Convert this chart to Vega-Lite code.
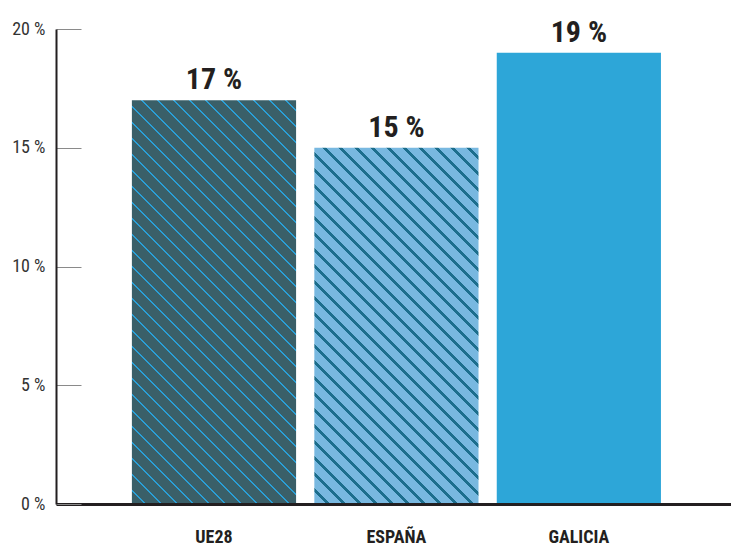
{
  "$schema": "https://vega.github.io/schema/vega-lite/v6.json",
  "width": 675,
  "height": 475,
  "autosize": {"type": "none"},
  "padding": {"left": 56, "top": 29, "right": 0, "bottom": 41},
  "background": "#ffffff",
  "config": {
    "view": {"stroke": null},
    "font": "Liberation Sans Narrow, Roboto Condensed, Roboto"
  },
  "data": {
    "values": [
      {"region": "UE28", "value": 17, "label": "17 %"},
      {"region": "ESPAÑA", "value": 15, "label": "15 %"},
      {"region": "GALICIA", "value": 19, "label": "19 %"}
    ]
  },
  "encoding": {
    "x": {
      "field": "region",
      "type": "nominal",
      "scale": {"domain": ["UE28", "ESPAÑA", "GALICIA"], "paddingInner": 0.1, "paddingOuter": 0.4, "align": 0.52},
      "axis": {
        "title": null,
        "labelAngle": 0,
        "ticks": false,
        "labelPadding": 24,
        "labelFontSize": 18,
        "labelFontWeight": "bold",
        "labelColor": "#231f20",
        "labelBaseline": "top",
        "labelFont": "Liberation Sans Narrow, Roboto Condensed, Roboto",
        "domainColor": "#231f20",
        "domainWidth": 3,
        "zindex": 1
      }
    },
    "y": {
      "field": "value",
      "type": "quantitative",
      "scale": {"domain": [0, 20], "nice": false},
      "axis": {
        "title": null,
        "values": [0, 5, 10, 15, 20],
        "labelExpr": "datum.value + ' %'",
        "grid": false,
        "tickSize": -25,
        "tickColor": "#8a8a8a",
        "tickWidth": 1,
        "labelPadding": 36,
        "labelFontSize": 18,
        "labelColor": "#333333",
        "labelFont": "Liberation Sans Narrow, Roboto Condensed, Roboto",
        "domainColor": "#231f20",
        "domainWidth": 2,
        "zindex": 1
      }
    }
  },
  "layer": [
    {
      "transform": [{"filter": "datum.region === 'UE28'"}],
      "mark": {
        "type": "bar",
        "fill": {
          "gradient": "linear",
          "x1": 0, "y1": 1.00557, "x2": 0.55314, "y2": -0.35463,
          "stops": [
            {"offset": 0, "color": "#3a5f68"},
            {"offset": 0.0234375, "color": "#3a5f68"}, {"offset": 0.0234375, "color": "#2a9fd6"}, {"offset": 0.0265625, "color": "#2a9fd6"}, {"offset": 0.0265625, "color": "#3a5f68"},
            {"offset": 0.0484375, "color": "#3a5f68"}, {"offset": 0.0484375, "color": "#2a9fd6"}, {"offset": 0.0515625, "color": "#2a9fd6"}, {"offset": 0.0515625, "color": "#3a5f68"},
            {"offset": 0.0734375, "color": "#3a5f68"}, {"offset": 0.0734375, "color": "#2a9fd6"}, {"offset": 0.0765625, "color": "#2a9fd6"}, {"offset": 0.0765625, "color": "#3a5f68"},
            {"offset": 0.0984375, "color": "#3a5f68"}, {"offset": 0.0984375, "color": "#2a9fd6"}, {"offset": 0.1015625, "color": "#2a9fd6"}, {"offset": 0.1015625, "color": "#3a5f68"},
            {"offset": 0.1234375, "color": "#3a5f68"}, {"offset": 0.1234375, "color": "#2a9fd6"}, {"offset": 0.1265625, "color": "#2a9fd6"}, {"offset": 0.1265625, "color": "#3a5f68"},
            {"offset": 0.1484375, "color": "#3a5f68"}, {"offset": 0.1484375, "color": "#2a9fd6"}, {"offset": 0.1515625, "color": "#2a9fd6"}, {"offset": 0.1515625, "color": "#3a5f68"},
            {"offset": 0.1734375, "color": "#3a5f68"}, {"offset": 0.1734375, "color": "#2a9fd6"}, {"offset": 0.1765625, "color": "#2a9fd6"}, {"offset": 0.1765625, "color": "#3a5f68"},
            {"offset": 0.1984375, "color": "#3a5f68"}, {"offset": 0.1984375, "color": "#2a9fd6"}, {"offset": 0.2015625, "color": "#2a9fd6"}, {"offset": 0.2015625, "color": "#3a5f68"},
            {"offset": 0.2234375, "color": "#3a5f68"}, {"offset": 0.2234375, "color": "#2a9fd6"}, {"offset": 0.2265625, "color": "#2a9fd6"}, {"offset": 0.2265625, "color": "#3a5f68"},
            {"offset": 0.2484375, "color": "#3a5f68"}, {"offset": 0.2484375, "color": "#2a9fd6"}, {"offset": 0.2515625, "color": "#2a9fd6"}, {"offset": 0.2515625, "color": "#3a5f68"},
            {"offset": 0.2734375, "color": "#3a5f68"}, {"offset": 0.2734375, "color": "#2a9fd6"}, {"offset": 0.2765625, "color": "#2a9fd6"}, {"offset": 0.2765625, "color": "#3a5f68"},
            {"offset": 0.2984375, "color": "#3a5f68"}, {"offset": 0.2984375, "color": "#2a9fd6"}, {"offset": 0.3015625, "color": "#2a9fd6"}, {"offset": 0.3015625, "color": "#3a5f68"},
            {"offset": 0.3234375, "color": "#3a5f68"}, {"offset": 0.3234375, "color": "#2a9fd6"}, {"offset": 0.3265625, "color": "#2a9fd6"}, {"offset": 0.3265625, "color": "#3a5f68"},
            {"offset": 0.3484375, "color": "#3a5f68"}, {"offset": 0.3484375, "color": "#2a9fd6"}, {"offset": 0.3515625, "color": "#2a9fd6"}, {"offset": 0.3515625, "color": "#3a5f68"},
            {"offset": 0.3734375, "color": "#3a5f68"}, {"offset": 0.3734375, "color": "#2a9fd6"}, {"offset": 0.3765625, "color": "#2a9fd6"}, {"offset": 0.3765625, "color": "#3a5f68"},
            {"offset": 0.3984375, "color": "#3a5f68"}, {"offset": 0.3984375, "color": "#2a9fd6"}, {"offset": 0.4015625, "color": "#2a9fd6"}, {"offset": 0.4015625, "color": "#3a5f68"},
            {"offset": 0.4234375, "color": "#3a5f68"}, {"offset": 0.4234375, "color": "#2a9fd6"}, {"offset": 0.4265625, "color": "#2a9fd6"}, {"offset": 0.4265625, "color": "#3a5f68"},
            {"offset": 0.4484375, "color": "#3a5f68"}, {"offset": 0.4484375, "color": "#2a9fd6"}, {"offset": 0.4515625, "color": "#2a9fd6"}, {"offset": 0.4515625, "color": "#3a5f68"},
            {"offset": 0.4734375, "color": "#3a5f68"}, {"offset": 0.4734375, "color": "#2a9fd6"}, {"offset": 0.4765625, "color": "#2a9fd6"}, {"offset": 0.4765625, "color": "#3a5f68"},
            {"offset": 0.4984375, "color": "#3a5f68"}, {"offset": 0.4984375, "color": "#2a9fd6"}, {"offset": 0.5015625, "color": "#2a9fd6"}, {"offset": 0.5015625, "color": "#3a5f68"},
            {"offset": 0.5234375, "color": "#3a5f68"}, {"offset": 0.5234375, "color": "#2a9fd6"}, {"offset": 0.5265625, "color": "#2a9fd6"}, {"offset": 0.5265625, "color": "#3a5f68"},
            {"offset": 0.5484375, "color": "#3a5f68"}, {"offset": 0.5484375, "color": "#2a9fd6"}, {"offset": 0.5515625, "color": "#2a9fd6"}, {"offset": 0.5515625, "color": "#3a5f68"},
            {"offset": 0.5734375, "color": "#3a5f68"}, {"offset": 0.5734375, "color": "#2a9fd6"}, {"offset": 0.5765625, "color": "#2a9fd6"}, {"offset": 0.5765625, "color": "#3a5f68"},
            {"offset": 0.5984375, "color": "#3a5f68"}, {"offset": 0.5984375, "color": "#2a9fd6"}, {"offset": 0.6015625, "color": "#2a9fd6"}, {"offset": 0.6015625, "color": "#3a5f68"},
            {"offset": 0.6234375, "color": "#3a5f68"}, {"offset": 0.6234375, "color": "#2a9fd6"}, {"offset": 0.6265625, "color": "#2a9fd6"}, {"offset": 0.6265625, "color": "#3a5f68"},
            {"offset": 0.6484375, "color": "#3a5f68"}, {"offset": 0.6484375, "color": "#2a9fd6"}, {"offset": 0.6515625, "color": "#2a9fd6"}, {"offset": 0.6515625, "color": "#3a5f68"},
            {"offset": 0.6734375, "color": "#3a5f68"}, {"offset": 0.6734375, "color": "#2a9fd6"}, {"offset": 0.6765625, "color": "#2a9fd6"}, {"offset": 0.6765625, "color": "#3a5f68"},
            {"offset": 0.6984375, "color": "#3a5f68"}, {"offset": 0.6984375, "color": "#2a9fd6"}, {"offset": 0.7015625, "color": "#2a9fd6"}, {"offset": 0.7015625, "color": "#3a5f68"},
            {"offset": 0.7234375, "color": "#3a5f68"}, {"offset": 0.7234375, "color": "#2a9fd6"}, {"offset": 0.7265625, "color": "#2a9fd6"}, {"offset": 0.7265625, "color": "#3a5f68"},
            {"offset": 0.7484375, "color": "#3a5f68"}, {"offset": 0.7484375, "color": "#2a9fd6"}, {"offset": 0.7515625, "color": "#2a9fd6"}, {"offset": 0.7515625, "color": "#3a5f68"},
            {"offset": 0.7734375, "color": "#3a5f68"}, {"offset": 0.7734375, "color": "#2a9fd6"}, {"offset": 0.7765625, "color": "#2a9fd6"}, {"offset": 0.7765625, "color": "#3a5f68"},
            {"offset": 0.7984375, "color": "#3a5f68"}, {"offset": 0.7984375, "color": "#2a9fd6"}, {"offset": 0.8015625, "color": "#2a9fd6"}, {"offset": 0.8015625, "color": "#3a5f68"},
            {"offset": 0.8234375, "color": "#3a5f68"}, {"offset": 0.8234375, "color": "#2a9fd6"}, {"offset": 0.8265625, "color": "#2a9fd6"}, {"offset": 0.8265625, "color": "#3a5f68"},
            {"offset": 0.8484375, "color": "#3a5f68"}, {"offset": 0.8484375, "color": "#2a9fd6"}, {"offset": 0.8515625, "color": "#2a9fd6"}, {"offset": 0.8515625, "color": "#3a5f68"},
            {"offset": 0.8734375, "color": "#3a5f68"}, {"offset": 0.8734375, "color": "#2a9fd6"}, {"offset": 0.8765625, "color": "#2a9fd6"}, {"offset": 0.8765625, "color": "#3a5f68"},
            {"offset": 1, "color": "#3a5f68"}
          ]
        }
      }
    },
    {
      "transform": [{"filter": "datum.region === 'ESPAÑA'"}],
      "mark": {
        "type": "bar",
        "fill": {
          "gradient": "linear",
          "x1": 0, "y1": 1.00491, "x2": 0.68292, "y2": -0.47684,
          "stops": [
            {"offset": 0, "color": "#78b8e0"},
            {"offset": 0.021875, "color": "#78b8e0"}, {"offset": 0.021875, "color": "#1c6e8d"}, {"offset": 0.028125, "color": "#1c6e8d"}, {"offset": 0.028125, "color": "#78b8e0"},
            {"offset": 0.046875, "color": "#78b8e0"}, {"offset": 0.046875, "color": "#1c6e8d"}, {"offset": 0.053125, "color": "#1c6e8d"}, {"offset": 0.053125, "color": "#78b8e0"},
            {"offset": 0.071875, "color": "#78b8e0"}, {"offset": 0.071875, "color": "#1c6e8d"}, {"offset": 0.078125, "color": "#1c6e8d"}, {"offset": 0.078125, "color": "#78b8e0"},
            {"offset": 0.096875, "color": "#78b8e0"}, {"offset": 0.096875, "color": "#1c6e8d"}, {"offset": 0.103125, "color": "#1c6e8d"}, {"offset": 0.103125, "color": "#78b8e0"},
            {"offset": 0.121875, "color": "#78b8e0"}, {"offset": 0.121875, "color": "#1c6e8d"}, {"offset": 0.128125, "color": "#1c6e8d"}, {"offset": 0.128125, "color": "#78b8e0"},
            {"offset": 0.146875, "color": "#78b8e0"}, {"offset": 0.146875, "color": "#1c6e8d"}, {"offset": 0.153125, "color": "#1c6e8d"}, {"offset": 0.153125, "color": "#78b8e0"},
            {"offset": 0.171875, "color": "#78b8e0"}, {"offset": 0.171875, "color": "#1c6e8d"}, {"offset": 0.178125, "color": "#1c6e8d"}, {"offset": 0.178125, "color": "#78b8e0"},
            {"offset": 0.196875, "color": "#78b8e0"}, {"offset": 0.196875, "color": "#1c6e8d"}, {"offset": 0.203125, "color": "#1c6e8d"}, {"offset": 0.203125, "color": "#78b8e0"},
            {"offset": 0.221875, "color": "#78b8e0"}, {"offset": 0.221875, "color": "#1c6e8d"}, {"offset": 0.228125, "color": "#1c6e8d"}, {"offset": 0.228125, "color": "#78b8e0"},
            {"offset": 0.246875, "color": "#78b8e0"}, {"offset": 0.246875, "color": "#1c6e8d"}, {"offset": 0.253125, "color": "#1c6e8d"}, {"offset": 0.253125, "color": "#78b8e0"},
            {"offset": 0.271875, "color": "#78b8e0"}, {"offset": 0.271875, "color": "#1c6e8d"}, {"offset": 0.278125, "color": "#1c6e8d"}, {"offset": 0.278125, "color": "#78b8e0"},
            {"offset": 0.296875, "color": "#78b8e0"}, {"offset": 0.296875, "color": "#1c6e8d"}, {"offset": 0.303125, "color": "#1c6e8d"}, {"offset": 0.303125, "color": "#78b8e0"},
            {"offset": 0.321875, "color": "#78b8e0"}, {"offset": 0.321875, "color": "#1c6e8d"}, {"offset": 0.328125, "color": "#1c6e8d"}, {"offset": 0.328125, "color": "#78b8e0"},
            {"offset": 0.346875, "color": "#78b8e0"}, {"offset": 0.346875, "color": "#1c6e8d"}, {"offset": 0.353125, "color": "#1c6e8d"}, {"offset": 0.353125, "color": "#78b8e0"},
            {"offset": 0.371875, "color": "#78b8e0"}, {"offset": 0.371875, "color": "#1c6e8d"}, {"offset": 0.378125, "color": "#1c6e8d"}, {"offset": 0.378125, "color": "#78b8e0"},
            {"offset": 0.396875, "color": "#78b8e0"}, {"offset": 0.396875, "color": "#1c6e8d"}, {"offset": 0.403125, "color": "#1c6e8d"}, {"offset": 0.403125, "color": "#78b8e0"},
            {"offset": 0.421875, "color": "#78b8e0"}, {"offset": 0.421875, "color": "#1c6e8d"}, {"offset": 0.428125, "color": "#1c6e8d"}, {"offset": 0.428125, "color": "#78b8e0"},
            {"offset": 0.446875, "color": "#78b8e0"}, {"offset": 0.446875, "color": "#1c6e8d"}, {"offset": 0.453125, "color": "#1c6e8d"}, {"offset": 0.453125, "color": "#78b8e0"},
            {"offset": 0.471875, "color": "#78b8e0"}, {"offset": 0.471875, "color": "#1c6e8d"}, {"offset": 0.478125, "color": "#1c6e8d"}, {"offset": 0.478125, "color": "#78b8e0"},
            {"offset": 0.496875, "color": "#78b8e0"}, {"offset": 0.496875, "color": "#1c6e8d"}, {"offset": 0.503125, "color": "#1c6e8d"}, {"offset": 0.503125, "color": "#78b8e0"},
            {"offset": 0.521875, "color": "#78b8e0"}, {"offset": 0.521875, "color": "#1c6e8d"}, {"offset": 0.528125, "color": "#1c6e8d"}, {"offset": 0.528125, "color": "#78b8e0"},
            {"offset": 0.546875, "color": "#78b8e0"}, {"offset": 0.546875, "color": "#1c6e8d"}, {"offset": 0.553125, "color": "#1c6e8d"}, {"offset": 0.553125, "color": "#78b8e0"},
            {"offset": 0.571875, "color": "#78b8e0"}, {"offset": 0.571875, "color": "#1c6e8d"}, {"offset": 0.578125, "color": "#1c6e8d"}, {"offset": 0.578125, "color": "#78b8e0"},
            {"offset": 0.596875, "color": "#78b8e0"}, {"offset": 0.596875, "color": "#1c6e8d"}, {"offset": 0.603125, "color": "#1c6e8d"}, {"offset": 0.603125, "color": "#78b8e0"},
            {"offset": 0.621875, "color": "#78b8e0"}, {"offset": 0.621875, "color": "#1c6e8d"}, {"offset": 0.628125, "color": "#1c6e8d"}, {"offset": 0.628125, "color": "#78b8e0"},
            {"offset": 0.646875, "color": "#78b8e0"}, {"offset": 0.646875, "color": "#1c6e8d"}, {"offset": 0.653125, "color": "#1c6e8d"}, {"offset": 0.653125, "color": "#78b8e0"},
            {"offset": 0.671875, "color": "#78b8e0"}, {"offset": 0.671875, "color": "#1c6e8d"}, {"offset": 0.678125, "color": "#1c6e8d"}, {"offset": 0.678125, "color": "#78b8e0"},
            {"offset": 0.696875, "color": "#78b8e0"}, {"offset": 0.696875, "color": "#1c6e8d"}, {"offset": 0.703125, "color": "#1c6e8d"}, {"offset": 0.703125, "color": "#78b8e0"},
            {"offset": 0.721875, "color": "#78b8e0"}, {"offset": 0.721875, "color": "#1c6e8d"}, {"offset": 0.728125, "color": "#1c6e8d"}, {"offset": 0.728125, "color": "#78b8e0"},
            {"offset": 0.746875, "color": "#78b8e0"}, {"offset": 0.746875, "color": "#1c6e8d"}, {"offset": 0.753125, "color": "#1c6e8d"}, {"offset": 0.753125, "color": "#78b8e0"},
            {"offset": 0.771875, "color": "#78b8e0"}, {"offset": 0.771875, "color": "#1c6e8d"}, {"offset": 0.778125, "color": "#1c6e8d"}, {"offset": 0.778125, "color": "#78b8e0"},
            {"offset": 0.796875, "color": "#78b8e0"}, {"offset": 0.796875, "color": "#1c6e8d"}, {"offset": 0.803125, "color": "#1c6e8d"}, {"offset": 0.803125, "color": "#78b8e0"},
            {"offset": 1, "color": "#78b8e0"}
          ]
        }
      }
    },
    {
      "transform": [{"filter": "datum.region === 'GALICIA'"}],
      "mark": {"type": "bar", "fill": "#2da6d8"}
    },
    {
      "mark": {
        "type": "text",
        "baseline": "alphabetic",
        "dy": -11,
        "fontSize": 30,
        "fontWeight": "bold",
        "color": "#231f20",
        "font": "Liberation Sans Narrow, Roboto Condensed, Roboto"
      },
      "encoding": {"text": {"field": "label"}}
    }
  ]
}
